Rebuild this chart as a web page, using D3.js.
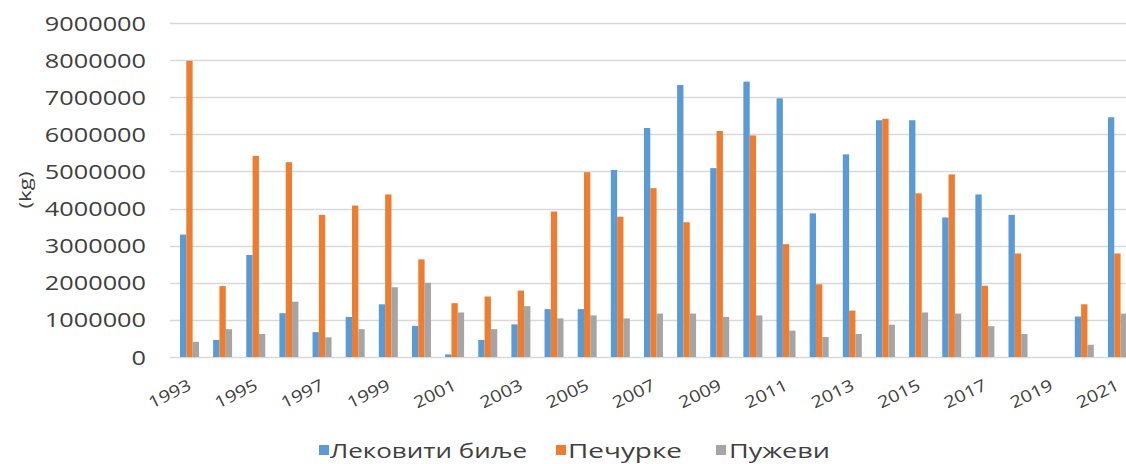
<!DOCTYPE html>
<html>
<head>
<meta charset="utf-8">
<script src="https://cdn.jsdelivr.net/npm/d3@7"></script>
<style>
  html, body { margin: 0; padding: 0; background: #fff; overflow: hidden; }
  text { font-family: "Open Sans", "Noto Sans", sans-serif; fill: #404040; }
</style>
</head>
<body>
<svg id="chart" width="1126" height="464"></svg>
<script>
const years = [1993,1994,1995,1996,1997,1998,1999,2000,2001,2002,2003,2004,2005,2006,2007,2008,2009,2010,2011,2012,2013,2014,2015,2016,2017,2018,2019,2020,2021];
const seriesNames = ["Лековити биље", "Печурке", "Пужеви"];
const seriesColors = ["#5b9bd5", "#ed7d31", "#a5a5a5"];
const lekovito = [3300000,460000,2750000,1180000,670000,1080000,1420000,840000,70000,460000,880000,1290000,1290000,5040000,6170000,7330000,5090000,7420000,6970000,3870000,5460000,6380000,6380000,3760000,4380000,3830000,0,1090000,6460000];
const pecurke = [7980000,1910000,5420000,5250000,3830000,4080000,4380000,2630000,1450000,1630000,1790000,3920000,4980000,3780000,4550000,3630000,6090000,5970000,3040000,1960000,1250000,6420000,4410000,4920000,1920000,2790000,0,1420000,2790000];
const puzevi = [410000,750000,620000,1490000,530000,750000,1880000,2000000,1200000,750000,1370000,1040000,1120000,1040000,1170000,1170000,1080000,1120000,710000,540000,620000,870000,1200000,1170000,830000,620000,0,330000,1170000];
const yTicks = [0,1000000,2000000,3000000,4000000,5000000,6000000,7000000,8000000,9000000];
const xTickLabels = ["1993","1995","1997","1999","2001","2003","2005","2007","2009","2011","2013","2015","2017","2019","2021"];
const yTitle = "(kg)";

const seriesData = [lekovito, pecurke, puzevi];
const svg = d3.select("#chart");

const y = d3.scaleLinear().domain([0, 9000000]).range([357, 23]);
const x = d3.scaleBand().domain(years.map(String)).range([172.9, 1134])
  .paddingInner(0.427).paddingOuter(0.2135);
const xs = d3.scaleBand().domain(d3.range(seriesNames.length)).range([0, x.bandwidth()]).padding(0);

// gridlines
svg.append("g").selectAll("line").data(yTicks).join("line")
  .attr("x1", 170).attr("x2", 1126)
  .attr("y1", d => Math.round(y(d)) + 0.5).attr("y2", d => Math.round(y(d)) + 0.5)
  .attr("stroke", "#d9d9d9").attr("stroke-width", 1.3);

// y tick labels
svg.append("g").selectAll("text").data(yTicks).join("text")
  .attr("x", 146).attr("y", d => y(d) + 7.5)
  .attr("text-anchor", "end")
  .attr("font-size", "20.5px")
  .attr("textLength", d => String(d).length * 14.45)
  .attr("lengthAdjust", "spacingAndGlyphs")
  .text(d => String(d));

// y title
svg.append("text")
  .attr("transform", "translate(31,190) rotate(-90)")
  .attr("text-anchor", "middle")
  .attr("font-size", "17px")
  .attr("textLength", 37)
  .attr("lengthAdjust", "spacingAndGlyphs")
  .text(yTitle);

// bars
const groups = svg.append("g").selectAll("g").data(years).join("g")
  .attr("transform", d => `translate(${x(String(d))},0)`);
groups.selectAll("rect")
  .data((d, i) => seriesData.map((s, k) => ({k, v: s[i]})))
  .join("rect")
  .attr("x", d => xs(d.k))
  .attr("width", xs.bandwidth())
  .attr("y", d => y(d.v))
  .attr("height", d => y(0) - y(d.v))
  .attr("fill", d => seriesColors[d.k]);

// x tick labels
svg.append("g").selectAll("text").data(xTickLabels).join("text")
  .attr("transform", d => `translate(${x(d) + x.bandwidth() / 2 + 3},389) rotate(-26)`)
  .attr("text-anchor", "end")
  .attr("font-size", "16.5px")
  .attr("textLength", 45)
  .attr("lengthAdjust", "spacingAndGlyphs")
  .text(d => d);

// legend
const legendItems = [
  {sx: 319, tx: 330, w: 197},
  {sx: 556, tx: 568, w: 114},
  {sx: 716, tx: 729, w: 101}
];
const lg = svg.append("g");
seriesNames.forEach((name, k) => {
  lg.append("rect").attr("x", legendItems[k].sx).attr("y", 445)
    .attr("width", 10).attr("height", 10).attr("fill", seriesColors[k]);
  lg.append("text").attr("x", legendItems[k].tx).attr("y", 458)
    .attr("font-size", "19.5px")
    .attr("textLength", legendItems[k].w)
    .attr("lengthAdjust", "spacingAndGlyphs")
    .text(name);
});
</script>
</body>
</html>
